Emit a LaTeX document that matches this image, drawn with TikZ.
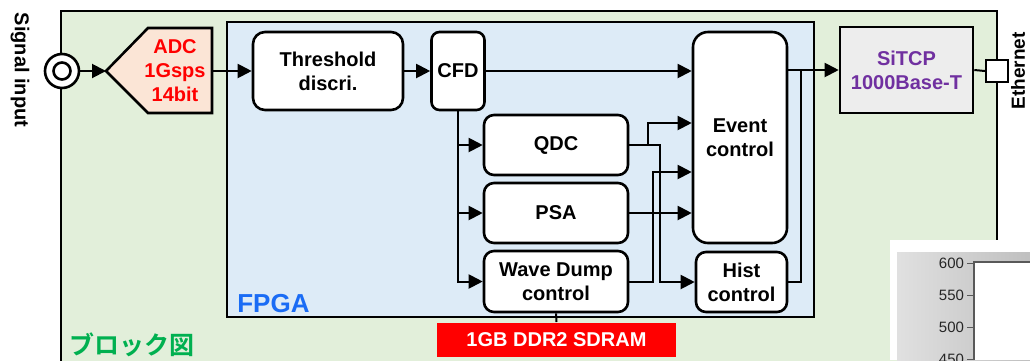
\documentclass[tikz,border=0pt]{standalone}
\usepackage{fontspec}
\setmainfont{Liberation Sans}
\newfontfamily\jpfont{Noto Sans CJK JP Bold}
\usetikzlibrary{arrows.meta, calc}
\definecolor{bggreen}{HTML}{E2EFDA}
\definecolor{bgblue}{HTML}{DDEBF7}
\definecolor{adcfill}{HTML}{FBE5D6}
\definecolor{tcpfill}{HTML}{EDEDED}
\definecolor{tcptext}{HTML}{7030A0}
\definecolor{fpgatext}{HTML}{1A6CF5}
\definecolor{jptext}{HTML}{00B050}
\tikzset{
  bd/.style={x=1pt, y=-1pt, font=\fontsize{20}{24}\selectfont\bfseries,
             >={Triangle[length=14pt, width=14pt]}, line width=2pt},
  frm/.style={draw, line width=2.6pt},
  blk/.style={frm, rounded corners=10pt, fill=white, align=center, inner sep=0pt},
  ar/.style={->, line width=2pt},
  ln/.style={line width=2pt},
  tick/.style={font=\fontsize{15}{15}\selectfont, text=black!85, anchor=east, inner sep=1pt}
}
\begin{document}
\begin{tikzpicture}[bd]
    \useasboundingbox (0,0) rectangle (1030,360);
    \clip (0,0) rectangle (1030,360);

    \draw[frm, fill=bggreen] (61,11) rectangle (997,390);
    \draw[frm, fill=bgblue] (227,22) rectangle (814,317);

    \node[font=\fontsize{20}{24}\selectfont\bfseries, rotate=-90] (sigtxt) at (20,70) {Signal input};
    \node[font=\fontsize{19}{24}\selectfont\bfseries, rotate=90] (ethtxt) at (1018,71) {Ethernet};

    \node[circle, frm, fill=white, minimum size=34pt] (sig) at (62,71) {};
    \node[circle, frm, minimum size=17pt] (sigin) at (62,71) {};

    \draw[frm, fill=adcfill] (106,71) -- (148,28) -- (212,28) -- (212,113) -- (148,113) -- cycle;
    \coordinate (adcin) at (106,71);
    \coordinate (adcout) at (212,71);
    \node[align=center, text=red] (adc) at (175,71) {ADC\\1Gsps\\14bit};

    \node[blk, rounded corners=12pt, minimum width=150pt, minimum height=78pt] (thr) at (328,71) {Threshold\\discri.};
    \node[blk, rounded corners=8pt, minimum width=53pt, minimum height=78pt] (cfd) at (458,71) {CFD};
    \node[blk, minimum width=144pt, minimum height=60pt] (qdc) at (556,145) {QDC};
    \node[blk, minimum width=144pt, minimum height=60pt] (psa) at (556,213) {PSA};
    \node[blk, minimum width=144pt, minimum height=61pt] (wave) at (556,281.5) {Wave Dump\\control};
    \node[blk, rounded corners=15pt, minimum width=94pt, minimum height=211pt] (event) at (740,137.5) {Event\\control};
    \node[blk, minimum width=91pt, minimum height=60pt] (hist) at (741.5,282) {Hist\\control};
    \node[frm, fill=tcpfill, text=tcptext, align=center, minimum width=133pt, minimum height=86pt] (sitcp) at (906.5,70) {SiTCP\\1000Base-T};
    \node[frm, line width=2.2pt, fill=white, minimum size=22pt] (eth) at (997,71) {};
    \node[fill=red, text=white, minimum width=239pt, minimum height=34pt, inner sep=0pt] (sdram) at (556.5,340) {1GB DDR2 SDRAM};

    \node[anchor=base west, text=fpgatext, font=\fontsize{26}{26}\selectfont\bfseries] (fpga) at (233,312) {FPGA};
    \node[anchor=west, text=jptext, font=\fontsize{25}{25}\selectfont\jpfont, inner sep=0pt] (blkzu) at (68,345) {ブロック図};

    \coordinate (yq) at (0,123);
    \coordinate (yw) at (0,172);

    \draw[ar] (sig) -- (adcin);
    \draw[ar] (adcout) -- (thr.west);
    \draw[ar] (thr.east) -- (cfd.west);
    \draw[ar] (cfd.east) -- (cfd.east -| event.west);
    \draw[ar] (cfd.south) |- (wave.west);
    \draw[ar] (cfd.south |- qdc.west) -- (qdc.west);
    \draw[ar] (cfd.south |- psa.west) -- (psa.west);
    \draw[ar] (qdc.east) -- ++(19,0) |- (event.west |- yq);
    \draw[ar] (qdc.east) -| ([xshift=-35pt]hist.west) -- (hist.west);
    \draw[ar] (psa.east) -- (event.west |- psa.east);
    \draw[ar] (wave.east) -- ++(24,0) |- (event.west |- yw);
    \draw[ar] (event.east |- sitcp.west) -- (sitcp.west);
    \draw[ln] (hist.east) -| ([xshift=-38pt]sitcp.west);
    \draw[ln] (sitcp.east) -- (eth.west);
    \draw[ln] (wave.south) -- (sdram.north);

    \fill[white] (890,240) rectangle (1030,360);
    \shade[left color=black!12, right color=black!25] (897,252) rectangle (1030,360);
    \fill[white] (974,262) rectangle (1030,360);
    \draw[black!65, line width=1.5pt] (974,360) -- (974,262) -- (1030,262);
    \foreach \v/\y in {600/263, 550/295, 500/327, 450/359} {
      \draw[black!65, line width=1pt] (967,\y) -- (974,\y);
      \node[tick] at (966,\y) {\v};
    }
\end{tikzpicture}
\end{document}
